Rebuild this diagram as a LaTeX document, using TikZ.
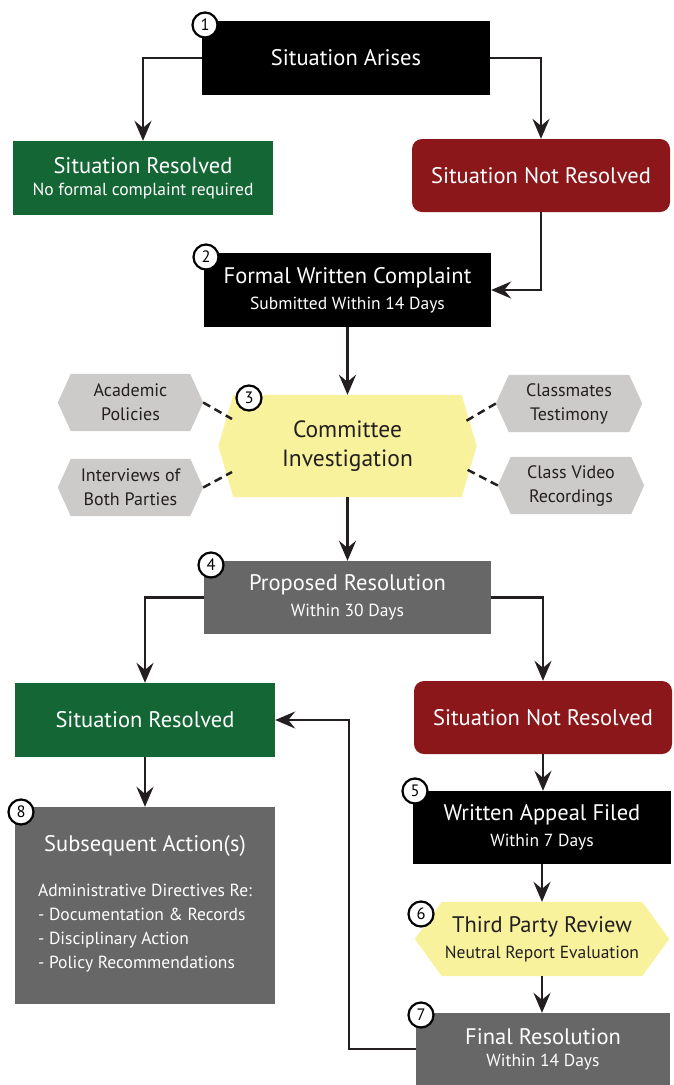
\documentclass[tikz,border=0pt]{standalone}
\usepackage{fontspec}
\setmainfont{PT Sans}
\usetikzlibrary{arrows.meta,calc,backgrounds}
\definecolor{cgreen}{HTML}{146635}
\definecolor{cred}{HTML}{8C171B}
\definecolor{cgray}{HTML}{666766}
\definecolor{cyel}{HTML}{F8F29D}
\definecolor{clight}{HTML}{CCCBCA}
\definecolor{cline}{HTML}{231F20}
\newcommand\ttl{\fontsize{22.5}{26}\selectfont}
\newcommand\sub{\fontsize{17.5}{20}\selectfont}
\newcommand\hexbg[3]{\begin{pgfonlayer}{background}\fill[#3] ($(#1.north west)+(#2,0)$) -- ($(#1.north east)+(-#2,0)$) -- (#1.east) -- ($(#1.south east)+(-#2,0)$) -- ($(#1.south west)+(#2,0)$) -- (#1.west) -- cycle;\end{pgfonlayer}}
\begin{document}
\begin{tikzpicture}[x=1pt,y=-1pt,
  box/.style={inner sep=0pt, align=center, text=white},
  sz/.style 2 args={minimum width=#1pt, minimum height=#2pt},
  hexnode/.style={inner sep=0pt, align=center, text=cline},
  arr/.style={draw=cline, line width=2.5pt, -{Stealth[length=20pt,width=17pt,inset=7pt]}},
  dashln/.style={draw=cline, line width=2.5pt, dash pattern=on 8pt off 5pt},
  num/.style={circle, draw=black, fill=white, line width=2.2pt, minimum size=25pt, inner sep=0pt, font=\fontsize{16.5}{16}\selectfont}
]
\useasboundingbox (0,0) rectangle (673,1085);
% boxes
\node[box, fill=black, sz={288}{74}, font=\ttl] (arise) at (346,58) {Situation Arises};
\node[box, fill=cgreen, sz={260}{74}] (res1) at (143,178) {{\ttl Situation Resolved}\\[8pt]{\sub No formal complaint required}};
\node[box, fill=cred, sz={258}{73}, rounded corners=10pt, font=\ttl] (nres1) at (541,175.5) {Situation Not Resolved};
\node[box, fill=black, sz={287}{74}] (complaint) at (347.5,290) {{\ttl Formal Written Complaint}\\[8pt]{\sub Submitted Within 14 Days}};
\node[hexnode, sz={258}{102}, font=\fontsize{23.5}{29}\selectfont] (committee) at (347.5,446) {Committee\\Investigation};
\hexbg{committee}{15}{cyel}
\node[hexnode, sz={145}{57}, font=\fontsize{18}{24}\selectfont] (academic) at (130.5,402.5) {Academic\\Policies};
\hexbg{academic}{13}{clight}
\node[hexnode, sz={145}{57}, font=\fontsize{18}{24}\selectfont] (interviews) at (130.5,487.5) {Interviews of\\Both Parties};
\hexbg{interviews}{13}{clight}
\node[hexnode, sz={146}{57}, font=\fontsize{18}{24}\selectfont] (classmates) at (569,403.5) {Classmates\\Testimony};
\hexbg{classmates}{13}{clight}
\node[hexnode, sz={146}{57}, font=\fontsize{18}{24}\selectfont] (video) at (571,485.5) {Class Video\\Recordings};
\hexbg{video}{13}{clight}
\node[box, fill=cgray, sz={287}{73}] (proposed) at (347.5,597.5) {{\ttl Proposed Resolution}\\[8pt]{\sub Within 30 Days}};
\node[box, fill=cgreen, sz={260}{74}, font=\ttl] (res2) at (145,720) {Situation Resolved};
\node[box, fill=cred, sz={258}{73}, rounded corners=10pt, font=\ttl] (nres2) at (543,717.5) {Situation Not Resolved};
\node[box, fill=black, sz={258}{73}] (appeal) at (542,827.5) {{\ttl Written Appeal Filed}\\[8pt]{\sub Within 7 Days}};
\node[hexnode, sz={254}{74}] (third) at (542,939) {{\ttl Third Party Review}\\[8pt]{\sub Neutral Report Evaluation}};
\hexbg{third}{27}{cyel}
\node[box, fill=cgray, sz={254}{72}] (final) at (543,1049) {{\ttl Final Resolution}\\[8pt]{\sub Within 14 Days}};
\node[box, fill=cgray, sz={260}{197}] (subseq) at (145,905.5) {{\ttl Subsequent Action(s)}\\[22pt]{\fontsize{17.5}{24}\selectfont\begin{tabular}{@{}l@{}}Administrative Directives Re:\\- Documentation \& Records\\- Disciplinary Action\\- Policy Recommendations\end{tabular}}};
% connectors
\draw[arr] (arise.west) -| (res1.north);
\draw[arr] (arise.east) -| (nres1.north);
\draw[arr] (nres1.south) |- (complaint.east);
\draw[arr] (complaint.south) -- (complaint.south |- committee.north);
\draw[arr] (committee.south) -- (committee.south |- proposed.north);
\draw[arr] (proposed.west) -| (res2.north);
\draw[arr] (proposed.east) -| (nres2.north);
\draw[arr] (res2.south) -- (subseq.north);
\draw[arr] (nres2.south) -- (nres2.south |- appeal.north);
\draw[arr] (appeal.south) -- (appeal.south |- third.north);
\draw[arr] (third.south) -- (third.south |- final.north);
\coordinate (loop) at (349,1049);
\draw[arr] (final.west) -- (loop) |- (res2.east);
% dashed links
\coordinate (c1) at (232,419);
\coordinate (c2) at (232,472);
\coordinate (c3) at (466,421);
\coordinate (c4) at (466,469);
\draw[dashln] (academic.east) -- (c1);
\draw[dashln] (interviews.east) -- (c2);
\draw[dashln] (classmates.west) -- (c3);
\draw[dashln] (video.west) -- (c4);
% numbers
\node[num] (n1) at (205,25) {1};
\node[num] (n2) at (206,257) {2};
\node[num] (n3) at (249,398) {3};
\node[num] (n4) at (211,565) {4};
\node[num] (n5) at (415,791) {5};
\node[num] (n6) at (421,914) {6};
\node[num] (n7) at (421,1015) {7};
\node[num] (n8) at (21,812) {8};
\end{tikzpicture}
\end{document}
